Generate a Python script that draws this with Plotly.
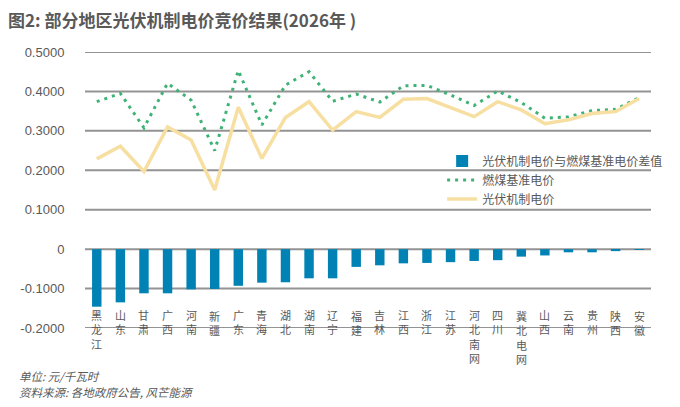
import plotly.graph_objects as go

regions = ["黑龙江", "山东", "甘肃", "广西", "河南", "新疆", "广东", "青海",
           "湖北", "湖南", "辽宁", "福建", "吉林", "江西", "浙江", "江苏",
           "河北南网", "四川", "冀北电网", "山西", "云南", "贵州", "陕西", "安徽"]

# 燃煤基准电价
coal = [0.374, 0.3949, 0.3078, 0.4207, 0.3779, 0.250, 0.453, 0.315,
        0.4161, 0.450, 0.3749, 0.3932, 0.3731, 0.4143, 0.4153, 0.391,
        0.3644, 0.4012, 0.372, 0.332, 0.3358, 0.3515, 0.3545, 0.3844]

# 光伏机制电价
pv = [0.229, 0.261, 0.197, 0.310, 0.277, 0.150, 0.360, 0.230,
      0.334, 0.374, 0.302, 0.349, 0.334, 0.380, 0.382, 0.360,
      0.336, 0.374, 0.353, 0.318, 0.328, 0.344, 0.349, 0.382]

# 差值
diff = [-0.146, -0.135, -0.112, -0.112, -0.102, -0.101, -0.093, -0.085,
        -0.084, -0.074, -0.074, -0.045, -0.041, -0.036, -0.035, -0.033,
        -0.030, -0.028, -0.019, -0.016, -0.008, -0.008, -0.005, -0.002]

yticks = [-0.2, -0.1, 0, 0.1, 0.2, 0.3, 0.4, 0.5]
yticktext = ["-0.2000", "-0.1000", "0", "0.1000", "0.2000", "0.3000", "0.4000", "0.5000"]

FONT = "Noto Sans CJK SC"
LABELFONT = "Liberation Sans, Noto Sans CJK SC"
NUMFONT = "Liberation Sans"
GREY = "#595959"
GRID = "#939393"

fig = go.Figure()
fig.add_trace(go.Bar(
    x=regions, y=diff, name="光伏机制电价与燃煤基准电价差值",
    marker=dict(color="#0082b4", line=dict(width=0)), width=0.4))
fig.add_trace(go.Scatter(
    x=regions, y=coal, name="燃煤基准电价", mode="lines",
    line=dict(color="#3fb275", width=3, dash="3px,5px")))
fig.add_trace(go.Scatter(
    x=regions, y=pv, name="光伏机制电价", mode="lines",
    line=dict(color="#f7dfa2", width=3.5)))

# horizontal gridlines (thin axis grid does not show up in the screenshot)
for t in yticks:
    fig.add_shape(type="line", xref="paper", x0=0, x1=1, yref="y", y0=t, y1=t,
                  line=dict(color=GRID, width=2), layer="between")

# vertical category labels (one character per row)
for r in regions:
    fig.add_annotation(
        x=r, xref="x", y=0, yref="paper", yanchor="top", yshift=20,
        text="<br>".join(r), showarrow=False,
        font=dict(family=LABELFONT, size=11, color=GREY))

fig.add_annotation(
    text="<i>单位: 元/千瓦时</i>", xref="paper", yref="paper",
    x=-0.12, y=-0.174, xanchor="left", yanchor="middle", showarrow=False,
    font=dict(family=FONT, size=11.5, color=GREY))
fig.add_annotation(
    text="<i>资料来源: 各地政府公告, 风芒能源</i>", xref="paper", yref="paper",
    x=-0.12, y=-0.232, xanchor="left", yanchor="middle", showarrow=False,
    font=dict(family=FONT, size=11.5, color=GREY))

# page body adds an 8px offset, so the figure is 8px smaller than the window
fig.update_layout(
    width=672, height=399,
    margin=dict(l=69, r=15, t=44, b=79),
    paper_bgcolor="white", plot_bgcolor="white",
    font=dict(family=FONT, color=GREY),
    title=dict(text="<b>图2: 部分地区光伏机制电价竞价结果(2026年 )</b>",
               x=0, xanchor="left", y=0.968, yanchor="middle",
               pad=dict(l=0, t=0, b=0, r=0),
               font=dict(family=FONT, size=17, color=GREY)),
    xaxis=dict(showticklabels=False, showgrid=False, zeroline=False,
               showline=False, ticks=""),
    yaxis=dict(range=[-0.2, 0.5], tickvals=yticks, ticktext=yticktext,
               showgrid=False, zeroline=False, showline=False,
               ticks="outside", ticklen=17, tickcolor="rgba(0,0,0,0)",
               tickfont=dict(family=NUMFONT, size=13, color=GREY)),
    legend=dict(x=0.631, y=0.658, xanchor="left", yanchor="top",
                bgcolor="rgba(0,0,0,0)",
                font=dict(family=FONT, size=12, color=GREY)),
    showlegend=True,
)

fig.write_html("out.html")
